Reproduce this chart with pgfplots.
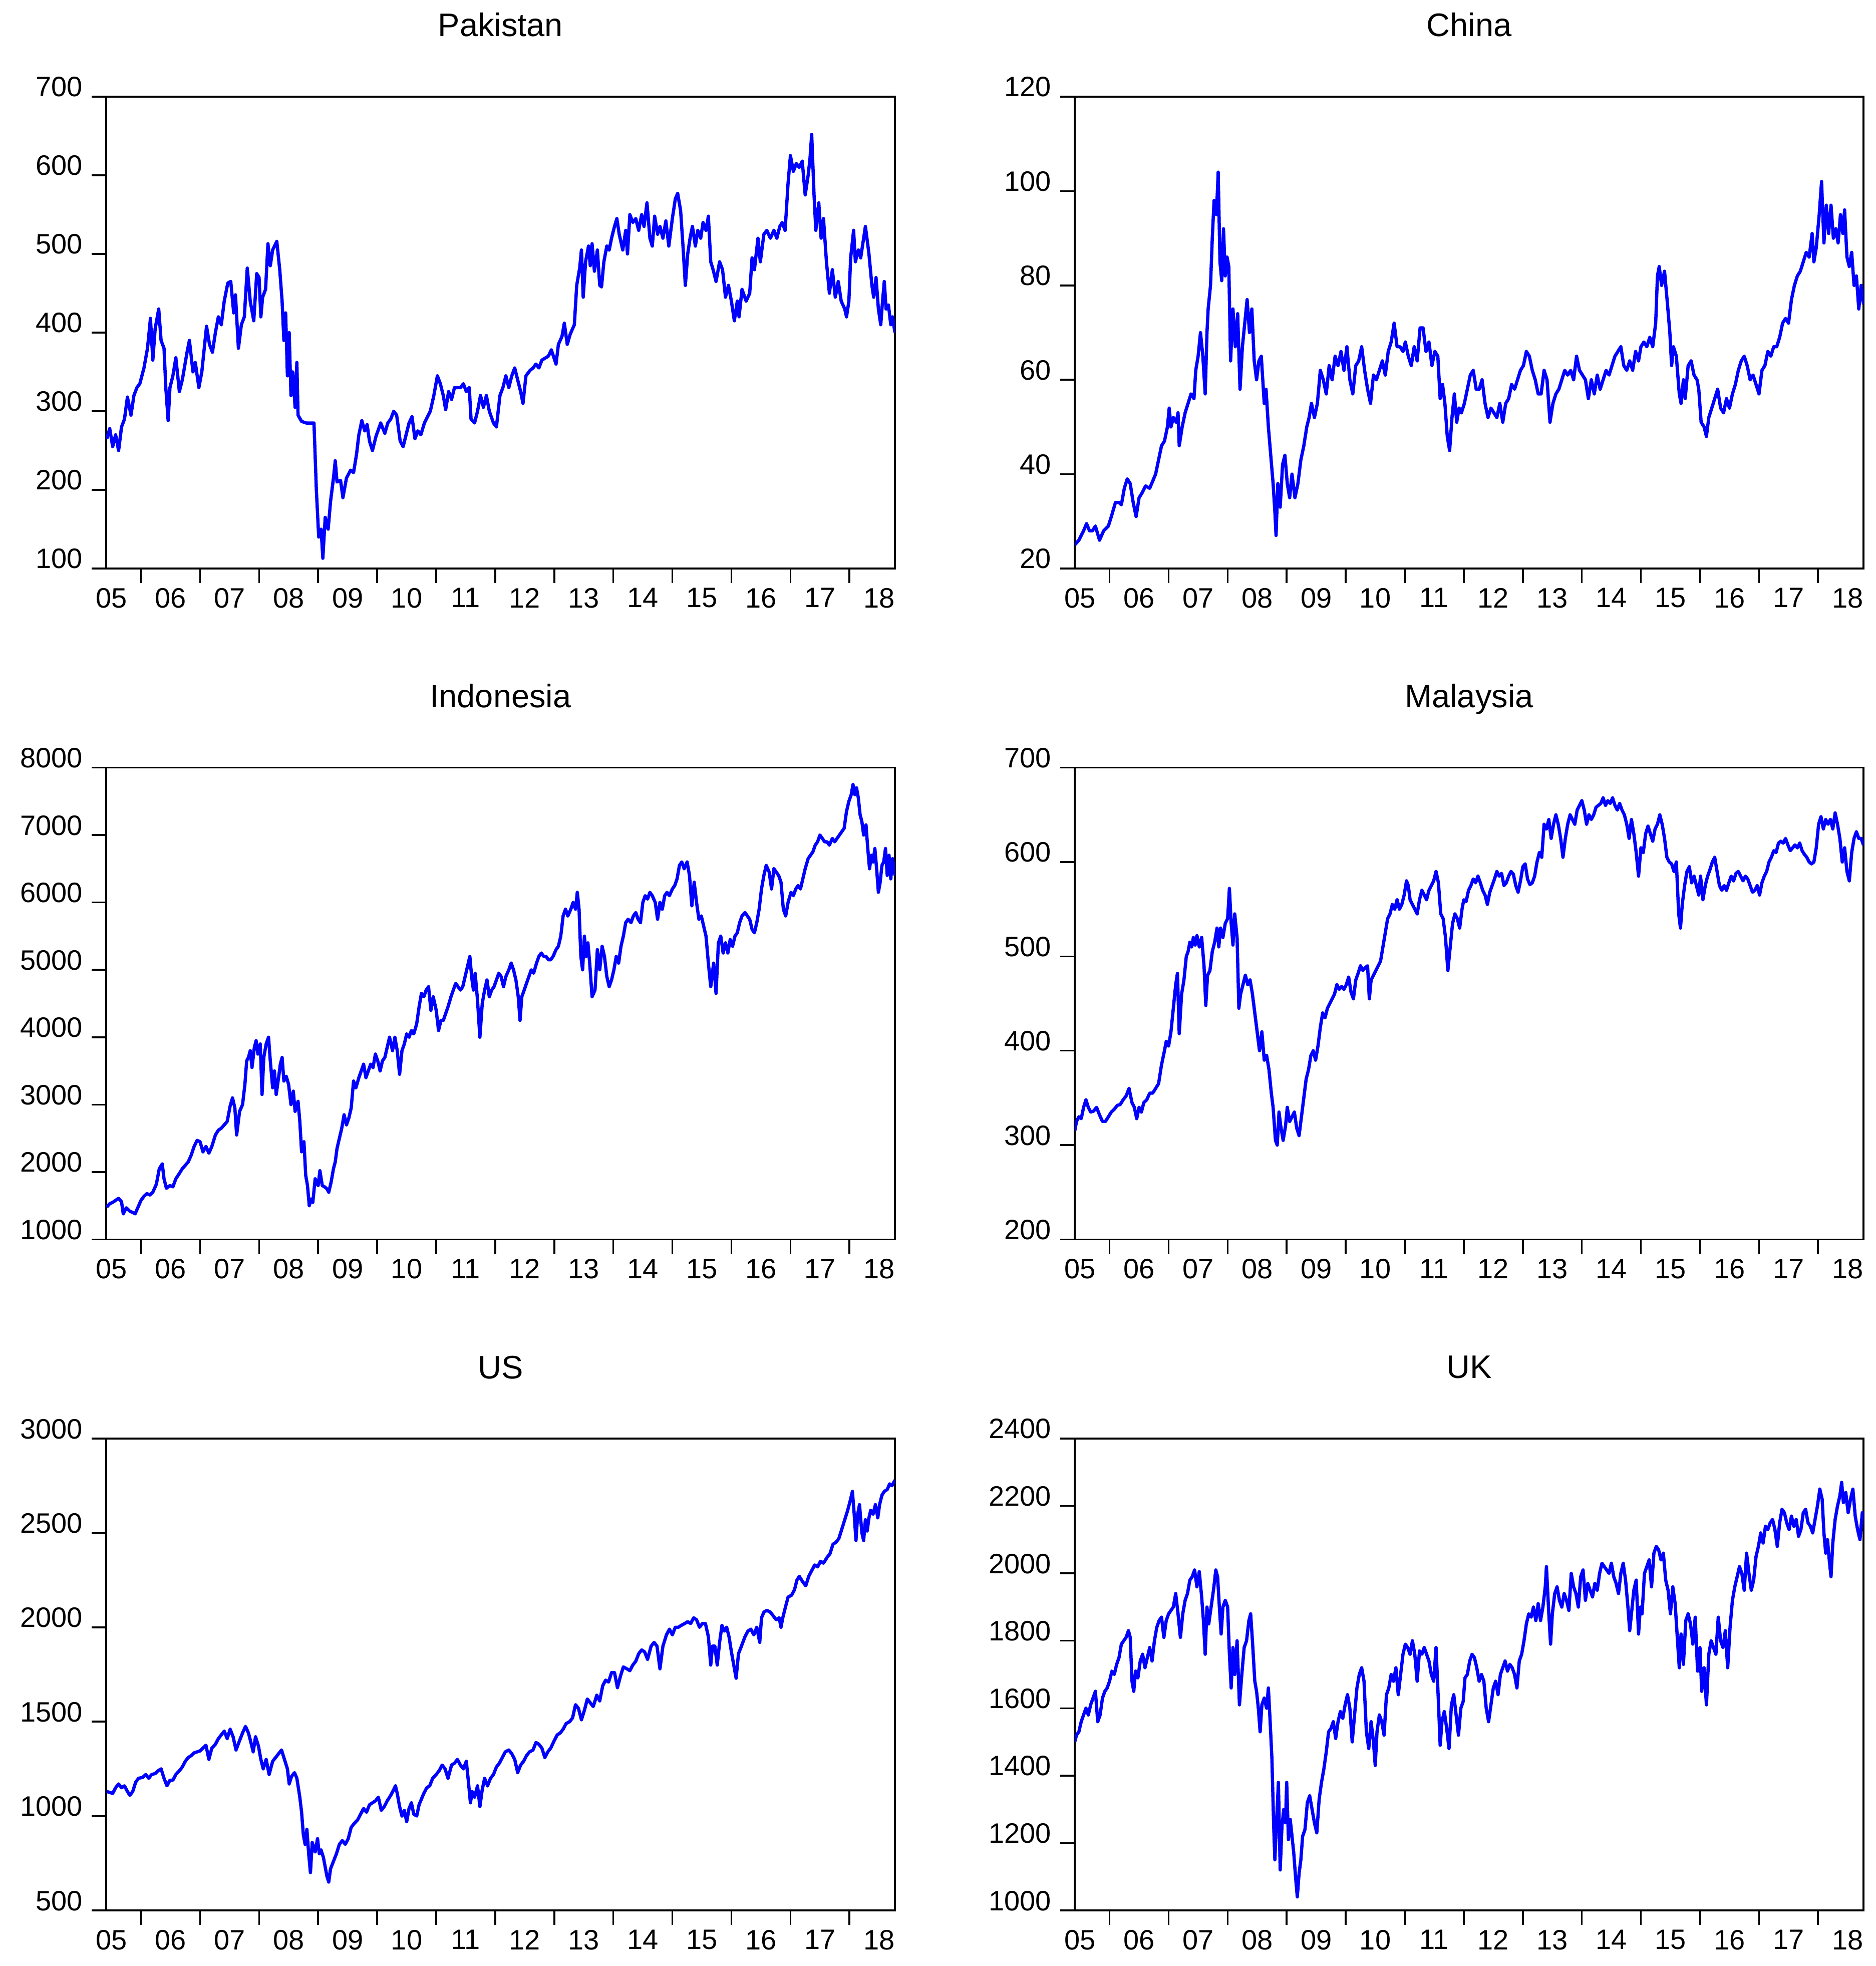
\documentclass[border=0pt]{standalone}
\usepackage{fontspec}
\setmainfont{Liberation Sans}
\usepackage{pgfplots}
\pgfplotsset{compat=1.18}
\pgfplotsset{
  panel/.style={
    scale only axis, width=315pt, height=188.4pt, anchor=south west,
    xmin=2005.41, xmax=2018.77,
    axis line style={line width=0.7pt, black},
    tick align=outside, xtick pos=left, ytick pos=left,
    major tick length=0pt, minor tick length=5.8pt,
    every minor tick/.append style={line width=0.7pt, black},
    xtick={2005.5,2006.5,2007.5,2008.5,2009.5,2010.5,2011.5,2012.5,2013.5,2014.5,2015.5,2016.5,2017.5,2018.5},
    xticklabels={05,06,07,08,09,10,11,12,13,14,15,16,17,18},
    minor xtick={2006,2007,2008,2009,2010,2011,2012,2013,2014,2015,2016,2017,2018},
    tick label style={font=\fontsize{11.2}{13}\selectfont},
    /pgf/number format/assume math mode=true,
    /pgf/number format/1000 sep={},
    yticklabel style={anchor=base east, inner sep=0pt, xshift=-9.2pt},
    xticklabel style={anchor=north, inner sep=0pt, yshift=-7.6pt},
    title style={font=\fontsize{13}{15}\selectfont, at={(0.5,1)}, anchor=base, yshift=18pt},
  },
  tsline/.style={color={rgb,255:red,0;green,0;blue,255}, line width=1.3pt, mark=none, line join=round},
}
\begin{document}
\begin{tikzpicture}
\path[use as bounding box] (0,0) rectangle (749.2pt,785pt);

% Pakistan
\begin{axis}[panel, at={(42.4pt,558pt)}, title={Pakistan}, ymin=100, ymax=700,
  ytick={100,200,300,400,500,600,700}, minor ytick={100,200,300,400,500,600,700}]
\addplot[tsline] coordinates {
(2005.42,265) (2005.47,278) (2005.52,255) (2005.57,270) (2005.62,250) (2005.67,280) (2005.72,290) (2005.77,318) (2005.83,295) (2005.88,320) (2005.93,330) (2005.98,335) (2006.05,355) (2006.11,380) (2006.16,418) (2006.20,365) (2006.24,405) (2006.30,430) (2006.34,390) (2006.39,380) (2006.42,330) (2006.46,288) (2006.49,330) (2006.54,345) (2006.59,368) (2006.65,325) (2006.70,340) (2006.78,375) (2006.82,390) (2006.88,350) (2006.92,362) (2006.98,330) (2007.03,350) (2007.11,408) (2007.16,385) (2007.21,375) (2007.26,400) (2007.31,420) (2007.36,410) (2007.41,440) (2007.47,463) (2007.52,465) (2007.57,425) (2007.60,448) (2007.65,380) (2007.70,410) (2007.75,420) (2007.80,482) (2007.85,440) (2007.91,415) (2007.96,475) (2008.00,470) (2008.03,420) (2008.06,445) (2008.11,455) (2008.15,513) (2008.19,485) (2008.23,505) (2008.30,516) (2008.35,480) (2008.39,440) (2008.42,390) (2008.45,425) (2008.48,345) (2008.51,400) (2008.54,320) (2008.57,350) (2008.61,305) (2008.64,362) (2008.66,295) (2008.72,287) (2008.80,285) (2008.93,285) (2008.97,200) (2009.01,140) (2009.05,150) (2009.08,113) (2009.12,165) (2009.17,150) (2009.21,185) (2009.26,215) (2009.29,237) (2009.32,210) (2009.38,212) (2009.42,190) (2009.48,215) (2009.55,225) (2009.60,222) (2009.65,245) (2009.69,270) (2009.74,288) (2009.79,275) (2009.83,283) (2009.87,262) (2009.92,250) (2009.98,268) (2010.06,285) (2010.13,272) (2010.18,285) (2010.23,290) (2010.28,300) (2010.33,295) (2010.39,262) (2010.44,255) (2010.49,270) (2010.54,285) (2010.59,293) (2010.64,265) (2010.69,275) (2010.74,270) (2010.80,285) (2010.90,300) (2010.96,320) (2011.02,345) (2011.07,335) (2011.12,320) (2011.16,302) (2011.21,325) (2011.26,315) (2011.31,330) (2011.41,330) (2011.46,335) (2011.51,325) (2011.56,330) (2011.59,290) (2011.65,285) (2011.70,300) (2011.75,320) (2011.80,305) (2011.85,320) (2011.90,300) (2011.97,285) (2012.02,280) (2012.08,320) (2012.13,330) (2012.18,345) (2012.23,330) (2012.28,345) (2012.33,355) (2012.38,340) (2012.43,325) (2012.47,310) (2012.52,345) (2012.59,352) (2012.64,355) (2012.69,360) (2012.74,355) (2012.79,365) (2012.90,370) (2012.95,378) (2013.03,360) (2013.07,385) (2013.13,395) (2013.17,412) (2013.22,385) (2013.27,398) (2013.34,410) (2013.38,460) (2013.43,482) (2013.46,505) (2013.49,445) (2013.53,490) (2013.58,510) (2013.61,485) (2013.64,513) (2013.68,478) (2013.73,505) (2013.77,460) (2013.80,458) (2013.84,490) (2013.89,510) (2013.93,505) (2013.97,520) (2014.02,535) (2014.06,545) (2014.10,525) (2014.16,505) (2014.21,530) (2014.24,500) (2014.28,550) (2014.33,540) (2014.38,545) (2014.43,530) (2014.48,550) (2014.52,535) (2014.57,565) (2014.62,520) (2014.66,510) (2014.70,548) (2014.75,525) (2014.79,535) (2014.84,520) (2014.89,542) (2014.94,510) (2015.00,545) (2015.05,570) (2015.09,577) (2015.14,555) (2015.18,510) (2015.22,460) (2015.26,500) (2015.30,520) (2015.34,535) (2015.39,510) (2015.43,530) (2015.48,520) (2015.52,540) (2015.57,530) (2015.61,548) (2015.65,490) (2015.69,480) (2015.74,465) (2015.80,490) (2015.85,480) (2015.90,445) (2015.95,460) (2016.00,440) (2016.05,415) (2016.10,440) (2016.13,420) (2016.18,455) (2016.25,440) (2016.31,450) (2016.35,495) (2016.39,480) (2016.45,520) (2016.49,490) (2016.55,525) (2016.60,530) (2016.66,520) (2016.72,530) (2016.77,520) (2016.82,535) (2016.86,540) (2016.91,530) (2016.96,590) (2017.00,625) (2017.05,605) (2017.10,615) (2017.15,610) (2017.20,618) (2017.25,575) (2017.30,600) (2017.33,620) (2017.36,652) (2017.40,575) (2017.43,530) (2017.48,565) (2017.52,520) (2017.56,545) (2017.61,490) (2017.66,450) (2017.71,480) (2017.76,445) (2017.81,465) (2017.86,440) (2017.92,430) (2017.95,420) (2017.99,440) (2018.02,495) (2018.07,530) (2018.10,490) (2018.15,505) (2018.19,495) (2018.24,520) (2018.27,535) (2018.33,500) (2018.38,460) (2018.41,445) (2018.45,470) (2018.49,430) (2018.53,410) (2018.56,440) (2018.59,465) (2018.62,430) (2018.66,435) (2018.70,410) (2018.73,420) (2018.77,400)
};
\end{axis}

% China
\begin{axis}[panel, at={(429.2pt,558pt)}, title={China}, ymin=20, ymax=120,
  ytick={20,40,60,80,100,120}, minor ytick={20,40,60,80,100,120}]
\addplot[tsline] coordinates {
(2005.41,25) (2005.48,26) (2005.56,28) (2005.61,29.5) (2005.66,28) (2005.71,28) (2005.76,29) (2005.83,26) (2005.90,28) (2005.98,29) (2006.03,31) (2006.10,34) (2006.16,34) (2006.20,33.5) (2006.25,37) (2006.30,39) (2006.35,38) (2006.40,34) (2006.45,31) (2006.50,35) (2006.55,36) (2006.61,37.5) (2006.68,37) (2006.73,38.5) (2006.78,40) (2006.83,43) (2006.88,46) (2006.93,47) (2006.98,50) (2007.01,54) (2007.04,50) (2007.08,52) (2007.13,51) (2007.16,53) (2007.18,46) (2007.23,50) (2007.28,53) (2007.33,55) (2007.38,57) (2007.43,56) (2007.46,62) (2007.50,65) (2007.54,70) (2007.58,65) (2007.62,57) (2007.65,70) (2007.67,75) (2007.71,80) (2007.74,90) (2007.77,98) (2007.81,95) (2007.84,104) (2007.87,85) (2007.90,81) (2007.93,92) (2007.96,82) (2007.99,86) (2008.02,84) (2008.05,64) (2008.09,75) (2008.13,67) (2008.17,74) (2008.21,58) (2008.25,67) (2008.29,72) (2008.33,77) (2008.37,70) (2008.41,75) (2008.45,64) (2008.49,60) (2008.53,64) (2008.57,65) (2008.62,55) (2008.65,58) (2008.69,50) (2008.73,44) (2008.77,38) (2008.80,32) (2008.82,27) (2008.85,38) (2008.89,33) (2008.93,42) (2008.97,44) (2009.01,38) (2009.05,35) (2009.09,40) (2009.14,35) (2009.19,38) (2009.24,43) (2009.29,46) (2009.34,50) (2009.38,52) (2009.42,55) (2009.47,52) (2009.52,55) (2009.57,62) (2009.62,60) (2009.67,57) (2009.72,63) (2009.77,60) (2009.82,65) (2009.87,63) (2009.92,66) (2009.97,62) (2010.02,67) (2010.07,60) (2010.12,57) (2010.17,63) (2010.22,64) (2010.27,67) (2010.32,62) (2010.37,58) (2010.42,55) (2010.47,61) (2010.52,60) (2010.57,62) (2010.62,64) (2010.67,61) (2010.72,66) (2010.77,68) (2010.82,72) (2010.87,67) (2010.92,67) (2010.97,66) (2011.01,68) (2011.06,65) (2011.11,63) (2011.16,67) (2011.21,64) (2011.26,71) (2011.31,71) (2011.36,66) (2011.41,68) (2011.46,63) (2011.51,66) (2011.56,65) (2011.60,56) (2011.64,59) (2011.68,55) (2011.72,48) (2011.76,45) (2011.80,52) (2011.84,57) (2011.88,51) (2011.92,54) (2011.96,53) (2012.01,55) (2012.06,58) (2012.11,61) (2012.16,62) (2012.21,58) (2012.26,58) (2012.31,60) (2012.36,55) (2012.41,52) (2012.46,54) (2012.51,53) (2012.56,52) (2012.61,55) (2012.66,51) (2012.71,55) (2012.76,56) (2012.81,59) (2012.86,58) (2012.91,60) (2012.96,62) (2013.01,63) (2013.06,66) (2013.11,65) (2013.16,62) (2013.21,60) (2013.26,57) (2013.31,57) (2013.36,62) (2013.41,60) (2013.46,51) (2013.51,55) (2013.56,57) (2013.61,58) (2013.66,60) (2013.71,62) (2013.76,61) (2013.81,62) (2013.86,60) (2013.91,65) (2013.96,62) (2014.01,61) (2014.06,60) (2014.11,56) (2014.16,60) (2014.21,57) (2014.26,61) (2014.31,58) (2014.36,60) (2014.41,62) (2014.46,61) (2014.51,63) (2014.56,65) (2014.61,66) (2014.66,67) (2014.71,63) (2014.76,62) (2014.81,64) (2014.86,62) (2014.91,66) (2014.96,64) (2015.00,67) (2015.05,68) (2015.10,67) (2015.15,69) (2015.20,67) (2015.25,72) (2015.28,82) (2015.31,84) (2015.35,80) (2015.40,83) (2015.45,76) (2015.49,70) (2015.52,63) (2015.55,67) (2015.60,65) (2015.65,57) (2015.68,55) (2015.72,60) (2015.75,56) (2015.80,63) (2015.85,64) (2015.90,61) (2015.95,60) (2015.98,58) (2016.02,51) (2016.07,50) (2016.11,48) (2016.15,52) (2016.20,54) (2016.25,56) (2016.30,58) (2016.35,54) (2016.40,53) (2016.45,56) (2016.50,54) (2016.55,57) (2016.60,59) (2016.65,62) (2016.70,64) (2016.75,65) (2016.80,63) (2016.85,60) (2016.90,61) (2016.95,59) (2017.00,57) (2017.05,62) (2017.10,63) (2017.15,66) (2017.20,65) (2017.25,67) (2017.30,67) (2017.35,69) (2017.40,72) (2017.45,73) (2017.50,72) (2017.55,77) (2017.60,80) (2017.65,82) (2017.70,83) (2017.75,85) (2017.80,87) (2017.85,86) (2017.90,91) (2017.93,85) (2017.97,88) (2018.02,95) (2018.06,102) (2018.10,89) (2018.14,97) (2018.18,91) (2018.22,97) (2018.26,90) (2018.30,92) (2018.34,89) (2018.38,95) (2018.42,91) (2018.45,96) (2018.49,86) (2018.53,84) (2018.57,87) (2018.61,80) (2018.65,82) (2018.69,75) (2018.73,80) (2018.77,76)
};
\end{axis}

% Indonesia
\begin{axis}[panel, at={(42.4pt,290.1pt)}, title={Indonesia}, ymin=1000, ymax=8000,
  ytick={1000,2000,3000,4000,5000,6000,7000,8000}, minor ytick={1000,2000,3000,4000,5000,6000,7000,8000}]
\addplot[tsline] coordinates {
(2005.42,1480) (2005.47,1530) (2005.52,1550) (2005.57,1580) (2005.62,1610) (2005.67,1560) (2005.70,1380) (2005.75,1470) (2005.81,1420) (2005.86,1400) (2005.90,1380) (2005.96,1500) (2006.00,1580) (2006.05,1640) (2006.10,1680) (2006.15,1660) (2006.20,1700) (2006.26,1820) (2006.31,2050) (2006.36,2120) (2006.39,1900) (2006.43,1760) (2006.49,1800) (2006.54,1780) (2006.59,1900) (2006.65,1980) (2006.70,2050) (2006.75,2100) (2006.80,2150) (2006.85,2250) (2006.90,2380) (2006.95,2470) (2007.00,2450) (2007.05,2300) (2007.10,2380) (2007.15,2280) (2007.20,2380) (2007.26,2550) (2007.31,2620) (2007.36,2650) (2007.41,2700) (2007.46,2750) (2007.51,2980) (2007.55,3100) (2007.59,2950) (2007.62,2550) (2007.67,2900) (2007.72,3000) (2007.76,3300) (2007.79,3650) (2007.82,3700) (2007.85,3800) (2007.88,3550) (2007.92,3850) (2007.95,3950) (2007.98,3750) (2008.02,3900) (2008.05,3150) (2008.08,3700) (2008.12,3900) (2008.16,4000) (2008.19,3650) (2008.23,3250) (2008.26,3500) (2008.29,3150) (2008.33,3400) (2008.36,3600) (2008.39,3700) (2008.42,3350) (2008.46,3420) (2008.50,3300) (2008.54,3000) (2008.58,3200) (2008.61,2900) (2008.66,3050) (2008.69,2750) (2008.72,2300) (2008.76,2450) (2008.79,1950) (2008.82,1800) (2008.85,1500) (2008.88,1600) (2008.91,1550) (2008.95,1900) (2009.00,1800) (2009.03,2020) (2009.07,1800) (2009.11,1780) (2009.15,1750) (2009.18,1700) (2009.22,1850) (2009.26,2050) (2009.29,2150) (2009.32,2350) (2009.36,2500) (2009.40,2650) (2009.44,2850) (2009.48,2700) (2009.52,2800) (2009.56,2950) (2009.60,3350) (2009.64,3250) (2009.69,3400) (2009.73,3500) (2009.77,3600) (2009.81,3400) (2009.85,3500) (2009.89,3600) (2009.93,3550) (2009.97,3750) (2010.01,3650) (2010.05,3500) (2010.09,3650) (2010.13,3700) (2010.17,3850) (2010.21,4000) (2010.26,3800) (2010.30,4000) (2010.34,3800) (2010.38,3450) (2010.42,3800) (2010.46,3900) (2010.50,4050) (2010.54,4000) (2010.58,4100) (2010.62,4050) (2010.67,4200) (2010.71,4450) (2010.75,4650) (2010.79,4600) (2010.83,4700) (2010.87,4750) (2010.91,4400) (2010.95,4600) (2011.00,4400) (2011.04,4100) (2011.08,4250) (2011.12,4250) (2011.16,4350) (2011.20,4450) (2011.25,4600) (2011.29,4700) (2011.33,4800) (2011.37,4750) (2011.41,4700) (2011.45,4750) (2011.49,4900) (2011.53,5050) (2011.57,5200) (2011.60,4900) (2011.63,4700) (2011.66,4950) (2011.70,4550) (2011.74,4000) (2011.78,4500) (2011.82,4700) (2011.86,4850) (2011.90,4600) (2011.94,4700) (2011.98,4750) (2012.02,4850) (2012.06,4950) (2012.10,4900) (2012.14,4750) (2012.18,4900) (2012.23,5000) (2012.27,5100) (2012.31,5000) (2012.35,4850) (2012.39,4600) (2012.42,4250) (2012.45,4600) (2012.49,4700) (2012.53,4800) (2012.57,4900) (2012.61,5000) (2012.65,4950) (2012.70,5100) (2012.74,5200) (2012.78,5250) (2012.82,5200) (2012.86,5200) (2012.90,5150) (2012.94,5150) (2012.98,5200) (2013.03,5300) (2013.07,5350) (2013.11,5500) (2013.15,5800) (2013.19,5900) (2013.23,5800) (2013.28,5900) (2013.32,6000) (2013.36,5900) (2013.39,6150) (2013.42,5900) (2013.45,5200) (2013.48,5000) (2013.51,5500) (2013.54,5200) (2013.57,5400) (2013.60,5100) (2013.64,4600) (2013.69,4700) (2013.73,5300) (2013.77,5000) (2013.81,5350) (2013.85,5200) (2013.89,4900) (2013.93,4750) (2013.97,4850) (2014.01,5000) (2014.05,5200) (2014.09,5100) (2014.13,5350) (2014.17,5500) (2014.21,5700) (2014.25,5750) (2014.30,5700) (2014.34,5800) (2014.38,5850) (2014.42,5750) (2014.46,5700) (2014.50,6000) (2014.54,6100) (2014.58,6050) (2014.62,6150) (2014.66,6100) (2014.71,6000) (2014.75,5750) (2014.79,6000) (2014.83,5900) (2014.87,6100) (2014.91,6150) (2014.95,6100) (2015.00,6200) (2015.04,6250) (2015.08,6350) (2015.12,6550) (2015.16,6600) (2015.20,6500) (2015.25,6600) (2015.29,6400) (2015.33,5950) (2015.37,6300) (2015.41,6000) (2015.45,5750) (2015.49,5800) (2015.53,5650) (2015.57,5500) (2015.61,5100) (2015.65,4750) (2015.70,5100) (2015.74,4650) (2015.78,5400) (2015.82,5500) (2015.86,5250) (2015.90,5400) (2015.94,5250) (2015.98,5450) (2016.02,5350) (2016.06,5500) (2016.10,5550) (2016.14,5700) (2016.18,5800) (2016.23,5850) (2016.27,5800) (2016.31,5750) (2016.35,5600) (2016.39,5550) (2016.43,5700) (2016.47,5900) (2016.51,6200) (2016.55,6400) (2016.59,6550) (2016.64,6450) (2016.68,6200) (2016.72,6500) (2016.76,6450) (2016.80,6400) (2016.84,6300) (2016.88,5900) (2016.92,5800) (2016.96,6000) (2017.01,6150) (2017.05,6100) (2017.09,6200) (2017.13,6250) (2017.17,6200) (2017.21,6350) (2017.25,6500) (2017.30,6650) (2017.34,6700) (2017.38,6750) (2017.42,6850) (2017.46,6900) (2017.50,7000) (2017.54,6950) (2017.58,6900) (2017.62,6900) (2017.66,6850) (2017.71,6950) (2017.75,6900) (2017.79,6950) (2017.83,7000) (2017.87,7050) (2017.91,7100) (2017.95,7350) (2017.99,7500) (2018.03,7600) (2018.06,7750) (2018.09,7600) (2018.12,7700) (2018.15,7550) (2018.18,7300) (2018.21,7200) (2018.24,7000) (2018.28,7150) (2018.31,6800) (2018.34,6500) (2018.37,6700) (2018.40,6600) (2018.43,6800) (2018.46,6500) (2018.49,6150) (2018.52,6300) (2018.55,6550) (2018.58,6600) (2018.61,6800) (2018.64,6400) (2018.67,6700) (2018.70,6350) (2018.73,6650) (2018.77,6400)
};
\end{axis}

% Malaysia
\begin{axis}[panel, at={(429.2pt,290.1pt)}, title={Malaysia}, ymin=200, ymax=700,
  ytick={200,300,400,500,600,700}, minor ytick={200,300,400,500,600,700}]
\addplot[tsline] coordinates {
(2005.41,315) (2005.44,325) (2005.48,330) (2005.52,328) (2005.56,340) (2005.60,348) (2005.64,340) (2005.68,335) (2005.73,336) (2005.78,340) (2005.83,332) (2005.88,325) (2005.93,325) (2005.98,330) (2006.03,335) (2006.08,338) (2006.13,342) (2006.18,343) (2006.23,348) (2006.28,352) (2006.33,360) (2006.38,345) (2006.42,340) (2006.46,328) (2006.50,340) (2006.54,335) (2006.58,345) (2006.63,348) (2006.68,355) (2006.73,355) (2006.78,360) (2006.83,365) (2006.88,385) (2006.93,400) (2006.96,410) (2007.00,405) (2007.04,420) (2007.08,445) (2007.12,470) (2007.15,482) (2007.18,418) (2007.22,460) (2007.26,475) (2007.30,500) (2007.33,505) (2007.36,515) (2007.39,510) (2007.42,520) (2007.45,512) (2007.48,522) (2007.52,510) (2007.56,520) (2007.60,490) (2007.63,448) (2007.66,480) (2007.70,485) (2007.74,505) (2007.78,515) (2007.82,530) (2007.85,510) (2007.88,530) (2007.92,520) (2007.96,535) (2008.00,540) (2008.03,572) (2008.06,535) (2008.09,512) (2008.12,545) (2008.16,520) (2008.19,445) (2008.22,460) (2008.26,470) (2008.30,480) (2008.34,470) (2008.38,475) (2008.42,460) (2008.46,440) (2008.50,420) (2008.54,400) (2008.58,420) (2008.62,390) (2008.66,395) (2008.70,380) (2008.74,355) (2008.77,340) (2008.81,305) (2008.84,300) (2008.87,335) (2008.90,320) (2008.94,305) (2008.98,320) (2009.01,340) (2009.05,325) (2009.09,330) (2009.13,335) (2009.17,318) (2009.21,310) (2009.25,330) (2009.29,350) (2009.33,370) (2009.37,380) (2009.41,395) (2009.45,400) (2009.49,390) (2009.53,405) (2009.57,425) (2009.61,440) (2009.65,435) (2009.69,445) (2009.73,450) (2009.77,455) (2009.81,460) (2009.85,470) (2009.89,465) (2009.93,468) (2009.97,465) (2010.01,470) (2010.05,478) (2010.09,462) (2010.13,455) (2010.17,475) (2010.21,482) (2010.25,490) (2010.29,485) (2010.33,488) (2010.37,490) (2010.40,455) (2010.43,475) (2010.47,480) (2010.51,485) (2010.55,490) (2010.59,495) (2010.63,510) (2010.67,525) (2010.71,540) (2010.75,545) (2010.79,555) (2010.83,550) (2010.87,560) (2010.91,550) (2010.95,555) (2010.99,565) (2011.03,580) (2011.06,575) (2011.09,560) (2011.13,555) (2011.17,550) (2011.21,545) (2011.25,560) (2011.29,570) (2011.33,565) (2011.37,560) (2011.41,570) (2011.45,575) (2011.49,580) (2011.53,590) (2011.57,578) (2011.61,545) (2011.65,540) (2011.69,520) (2011.73,485) (2011.77,510) (2011.81,535) (2011.85,545) (2011.89,540) (2011.93,530) (2011.97,550) (2012.00,560) (2012.04,558) (2012.08,570) (2012.12,575) (2012.16,582) (2012.20,578) (2012.24,585) (2012.28,578) (2012.32,570) (2012.36,565) (2012.40,555) (2012.44,568) (2012.48,575) (2012.52,582) (2012.56,590) (2012.60,585) (2012.64,588) (2012.68,575) (2012.72,578) (2012.76,585) (2012.80,590) (2012.84,587) (2012.88,575) (2012.92,568) (2012.96,580) (2013.00,595) (2013.04,598) (2013.08,582) (2013.12,576) (2013.16,578) (2013.20,585) (2013.24,600) (2013.28,610) (2013.32,605) (2013.36,640) (2013.40,635) (2013.44,645) (2013.48,625) (2013.52,640) (2013.56,650) (2013.60,640) (2013.64,625) (2013.68,605) (2013.72,625) (2013.76,640) (2013.80,650) (2013.84,645) (2013.88,640) (2013.92,655) (2013.96,660) (2014.00,665) (2014.04,655) (2014.08,640) (2014.12,650) (2014.16,645) (2014.20,650) (2014.24,658) (2014.28,660) (2014.32,662) (2014.36,668) (2014.40,660) (2014.44,665) (2014.48,662) (2014.52,668) (2014.56,660) (2014.60,655) (2014.64,662) (2014.68,655) (2014.72,650) (2014.76,640) (2014.80,625) (2014.84,645) (2014.88,630) (2014.92,610) (2014.96,585) (2015.00,615) (2015.04,610) (2015.08,630) (2015.12,638) (2015.16,630) (2015.20,622) (2015.24,635) (2015.28,640) (2015.32,650) (2015.36,640) (2015.40,625) (2015.44,605) (2015.48,600) (2015.52,598) (2015.56,590) (2015.60,600) (2015.64,545) (2015.67,530) (2015.70,555) (2015.74,575) (2015.78,590) (2015.82,595) (2015.86,578) (2015.90,585) (2015.94,575) (2015.98,565) (2016.01,585) (2016.05,560) (2016.09,575) (2016.13,585) (2016.17,592) (2016.21,600) (2016.25,605) (2016.29,590) (2016.33,575) (2016.37,570) (2016.41,575) (2016.45,570) (2016.49,578) (2016.53,585) (2016.57,580) (2016.61,588) (2016.65,590) (2016.69,585) (2016.73,580) (2016.77,585) (2016.81,582) (2016.85,575) (2016.89,568) (2016.93,570) (2016.97,575) (2017.01,565) (2017.05,578) (2017.09,585) (2017.13,590) (2017.17,600) (2017.21,605) (2017.25,612) (2017.29,610) (2017.33,620) (2017.37,622) (2017.41,620) (2017.45,625) (2017.49,618) (2017.53,612) (2017.57,615) (2017.61,618) (2017.65,615) (2017.69,620) (2017.73,612) (2017.77,608) (2017.81,605) (2017.85,600) (2017.89,598) (2017.93,600) (2017.97,615) (2018.01,640) (2018.05,648) (2018.09,635) (2018.13,645) (2018.17,640) (2018.21,645) (2018.25,635) (2018.29,652) (2018.33,640) (2018.37,625) (2018.41,600) (2018.45,615) (2018.49,590) (2018.53,580) (2018.57,610) (2018.61,625) (2018.65,632) (2018.69,625) (2018.73,625) (2018.77,618)
};
\end{axis}

% US
\begin{axis}[panel, at={(42.4pt,22.2pt)}, title={US}, ymin=500, ymax=3000,
  ytick={500,1000,1500,2000,2500,3000}, minor ytick={500,1000,1500,2000,2500,3000}]
\addplot[tsline] coordinates {
(2005.42,1130) (2005.52,1120) (2005.57,1150) (2005.62,1170) (2005.67,1150) (2005.72,1160) (2005.77,1130) (2005.81,1110) (2005.86,1130) (2005.91,1180) (2005.96,1200) (2006.03,1205) (2006.08,1220) (2006.13,1200) (2006.18,1220) (2006.24,1225) (2006.29,1240) (2006.34,1250) (2006.39,1200) (2006.44,1160) (2006.49,1190) (2006.54,1190) (2006.59,1220) (2006.65,1240) (2006.70,1260) (2006.75,1290) (2006.80,1310) (2006.85,1320) (2006.90,1335) (2006.95,1340) (2007.00,1345) (2007.05,1360) (2007.10,1375) (2007.15,1300) (2007.20,1360) (2007.26,1380) (2007.31,1410) (2007.36,1430) (2007.41,1450) (2007.46,1410) (2007.51,1460) (2007.56,1420) (2007.61,1350) (2007.67,1400) (2007.72,1440) (2007.77,1475) (2007.82,1440) (2007.87,1380) (2007.90,1340) (2007.94,1420) (2007.99,1370) (2008.03,1300) (2008.07,1250) (2008.12,1300) (2008.17,1220) (2008.23,1290) (2008.28,1310) (2008.33,1330) (2008.38,1350) (2008.43,1300) (2008.48,1250) (2008.51,1170) (2008.55,1210) (2008.60,1230) (2008.64,1200) (2008.69,1100) (2008.72,1020) (2008.75,900) (2008.78,850) (2008.81,930) (2008.84,800) (2008.87,700) (2008.90,860) (2008.95,810) (2008.99,880) (2009.02,800) (2009.05,820) (2009.09,780) (2009.12,730) (2009.15,680) (2009.18,650) (2009.21,720) (2009.26,760) (2009.31,800) (2009.36,850) (2009.41,870) (2009.46,850) (2009.51,880) (2009.56,940) (2009.61,960) (2009.67,980) (2009.72,1010) (2009.77,1040) (2009.82,1020) (2009.87,1060) (2009.92,1070) (2009.97,1080) (2010.02,1100) (2010.07,1030) (2010.12,1050) (2010.17,1080) (2010.23,1110) (2010.28,1140) (2010.31,1160) (2010.34,1120) (2010.38,1050) (2010.42,1000) (2010.46,1030) (2010.50,970) (2010.54,1040) (2010.58,1070) (2010.62,1010) (2010.67,1000) (2010.71,1060) (2010.75,1090) (2010.79,1120) (2010.84,1150) (2010.89,1160) (2010.94,1200) (2011.00,1220) (2011.05,1240) (2011.10,1270) (2011.15,1250) (2011.20,1200) (2011.26,1270) (2011.31,1280) (2011.36,1300) (2011.41,1270) (2011.46,1250) (2011.51,1290) (2011.54,1200) (2011.58,1070) (2011.61,1130) (2011.65,1100) (2011.70,1160) (2011.74,1050) (2011.78,1140) (2011.82,1200) (2011.87,1160) (2011.92,1200) (2011.97,1220) (2012.02,1260) (2012.07,1280) (2012.12,1310) (2012.17,1340) (2012.23,1350) (2012.28,1330) (2012.33,1300) (2012.38,1230) (2012.43,1270) (2012.48,1290) (2012.53,1320) (2012.58,1340) (2012.64,1350) (2012.69,1390) (2012.74,1380) (2012.79,1360) (2012.84,1310) (2012.89,1340) (2012.94,1360) (2013.00,1400) (2013.05,1430) (2013.10,1440) (2013.15,1460) (2013.20,1490) (2013.26,1500) (2013.31,1520) (2013.36,1590) (2013.41,1570) (2013.46,1510) (2013.51,1560) (2013.56,1620) (2013.61,1600) (2013.66,1580) (2013.72,1640) (2013.77,1610) (2013.82,1690) (2013.87,1720) (2013.92,1710) (2013.97,1760) (2014.02,1760) (2014.07,1680) (2014.12,1740) (2014.17,1790) (2014.23,1780) (2014.28,1770) (2014.33,1800) (2014.38,1820) (2014.43,1860) (2014.48,1880) (2014.53,1870) (2014.58,1830) (2014.64,1900) (2014.69,1920) (2014.74,1900) (2014.79,1780) (2014.84,1900) (2014.90,1960) (2014.95,1990) (2015.00,1960) (2015.05,2000) (2015.10,2000) (2015.15,2010) (2015.21,2020) (2015.26,2030) (2015.31,2020) (2015.36,2050) (2015.41,2040) (2015.46,2000) (2015.51,2020) (2015.56,2020) (2015.61,1950) (2015.65,1800) (2015.68,1900) (2015.72,1900) (2015.76,1800) (2015.80,1920) (2015.84,2010) (2015.88,1980) (2015.92,2000) (2015.96,1950) (2016.00,1870) (2016.04,1800) (2016.08,1730) (2016.12,1860) (2016.17,1900) (2016.23,1950) (2016.28,1980) (2016.33,1990) (2016.38,1960) (2016.43,2000) (2016.48,1920) (2016.51,2050) (2016.55,2080) (2016.60,2090) (2016.66,2080) (2016.71,2060) (2016.76,2040) (2016.81,2050) (2016.84,2000) (2016.87,2050) (2016.91,2100) (2016.96,2160) (2017.02,2170) (2017.07,2200) (2017.11,2250) (2017.15,2270) (2017.21,2240) (2017.26,2220) (2017.31,2270) (2017.36,2300) (2017.41,2330) (2017.46,2320) (2017.51,2350) (2017.56,2340) (2017.62,2370) (2017.67,2390) (2017.72,2440) (2017.77,2450) (2017.82,2470) (2017.87,2520) (2017.92,2570) (2017.97,2620) (2018.02,2680) (2018.05,2720) (2018.08,2600) (2018.11,2460) (2018.14,2600) (2018.17,2650) (2018.21,2500) (2018.24,2460) (2018.27,2570) (2018.30,2510) (2018.33,2580) (2018.36,2620) (2018.40,2600) (2018.44,2650) (2018.48,2580) (2018.51,2650) (2018.55,2700) (2018.59,2720) (2018.64,2730) (2018.68,2760) (2018.72,2750) (2018.77,2780)
};
\end{axis}

% UK
\begin{axis}[panel, at={(429.2pt,22.2pt)}, title={UK}, ymin=1000, ymax=2400,
  ytick={1000,1200,1400,1600,1800,2000,2200,2400}, minor ytick={1000,1200,1400,1600,1800,2000,2200,2400}]
\addplot[tsline] coordinates {
(2005.41,1500) (2005.44,1520) (2005.48,1530) (2005.52,1560) (2005.56,1580) (2005.60,1600) (2005.64,1580) (2005.68,1610) (2005.72,1630) (2005.76,1650) (2005.80,1560) (2005.84,1580) (2005.88,1630) (2005.92,1650) (2005.96,1660) (2006.00,1680) (2006.04,1710) (2006.08,1700) (2006.12,1730) (2006.16,1750) (2006.20,1790) (2006.24,1800) (2006.28,1810) (2006.32,1830) (2006.35,1810) (2006.38,1680) (2006.41,1650) (2006.44,1710) (2006.48,1690) (2006.52,1740) (2006.56,1760) (2006.60,1720) (2006.64,1750) (2006.68,1780) (2006.72,1740) (2006.76,1800) (2006.80,1840) (2006.84,1860) (2006.88,1870) (2006.92,1810) (2006.96,1860) (2007.00,1880) (2007.04,1890) (2007.08,1900) (2007.12,1940) (2007.16,1880) (2007.20,1810) (2007.24,1880) (2007.28,1920) (2007.32,1940) (2007.36,1980) (2007.40,1990) (2007.44,2010) (2007.48,1960) (2007.52,2005) (2007.56,1930) (2007.59,1860) (2007.62,1760) (2007.65,1900) (2007.68,1850) (2007.72,1900) (2007.76,1950) (2007.80,2010) (2007.83,1990) (2007.86,1900) (2007.89,1820) (2007.92,1900) (2007.96,1920) (2008.00,1900) (2008.03,1760) (2008.06,1660) (2008.09,1780) (2008.12,1700) (2008.16,1800) (2008.20,1610) (2008.24,1700) (2008.28,1780) (2008.32,1800) (2008.36,1860) (2008.39,1880) (2008.42,1800) (2008.46,1680) (2008.49,1650) (2008.52,1600) (2008.55,1530) (2008.58,1610) (2008.62,1630) (2008.66,1600) (2008.69,1660) (2008.72,1560) (2008.75,1450) (2008.78,1250) (2008.80,1150) (2008.83,1270) (2008.86,1380) (2008.89,1120) (2008.92,1250) (2008.95,1300) (2008.98,1260) (2009.00,1380) (2009.03,1210) (2009.06,1270) (2009.09,1220) (2009.12,1170) (2009.15,1100) (2009.18,1040) (2009.21,1110) (2009.24,1150) (2009.27,1220) (2009.31,1240) (2009.35,1320) (2009.39,1340) (2009.43,1300) (2009.47,1260) (2009.51,1230) (2009.55,1330) (2009.59,1380) (2009.63,1420) (2009.67,1470) (2009.71,1530) (2009.75,1540) (2009.79,1560) (2009.83,1510) (2009.87,1560) (2009.91,1590) (2009.95,1570) (2009.99,1610) (2010.03,1640) (2010.07,1600) (2010.11,1500) (2010.15,1580) (2010.19,1660) (2010.23,1700) (2010.27,1720) (2010.31,1680) (2010.35,1530) (2010.39,1480) (2010.43,1560) (2010.47,1500) (2010.50,1430) (2010.53,1530) (2010.57,1580) (2010.61,1560) (2010.65,1520) (2010.69,1640) (2010.73,1660) (2010.77,1700) (2010.81,1680) (2010.85,1720) (2010.89,1640) (2010.93,1700) (2010.97,1760) (2011.01,1790) (2011.05,1780) (2011.09,1760) (2011.13,1800) (2011.17,1760) (2011.21,1680) (2011.25,1770) (2011.29,1760) (2011.33,1780) (2011.37,1760) (2011.41,1740) (2011.45,1700) (2011.49,1680) (2011.53,1780) (2011.57,1620) (2011.60,1490) (2011.63,1560) (2011.67,1590) (2011.71,1540) (2011.75,1480) (2011.79,1610) (2011.83,1640) (2011.87,1580) (2011.91,1520) (2011.95,1600) (2011.99,1620) (2012.02,1690) (2012.06,1700) (2012.10,1740) (2012.14,1760) (2012.18,1750) (2012.22,1720) (2012.26,1680) (2012.30,1700) (2012.34,1680) (2012.38,1600) (2012.42,1560) (2012.46,1610) (2012.50,1660) (2012.54,1680) (2012.58,1640) (2012.62,1700) (2012.66,1720) (2012.70,1740) (2012.74,1710) (2012.78,1730) (2012.82,1720) (2012.86,1700) (2012.90,1660) (2012.94,1740) (2012.98,1760) (2013.02,1800) (2013.06,1850) (2013.10,1880) (2013.14,1870) (2013.18,1900) (2013.22,1860) (2013.26,1910) (2013.30,1860) (2013.34,1900) (2013.38,1960) (2013.40,2020) (2013.44,1880) (2013.47,1790) (2013.50,1880) (2013.54,1940) (2013.58,1960) (2013.62,1920) (2013.66,1900) (2013.70,1940) (2013.74,1920) (2013.78,1890) (2013.82,2000) (2013.86,1960) (2013.90,1940) (2013.94,1900) (2013.98,1990) (2014.02,2010) (2014.06,1920) (2014.10,1970) (2014.14,1950) (2014.18,1930) (2014.22,1970) (2014.26,1950) (2014.30,2000) (2014.34,2030) (2014.38,2020) (2014.42,2010) (2014.46,2000) (2014.50,2030) (2014.54,1990) (2014.58,1970) (2014.62,1940) (2014.66,2000) (2014.70,2030) (2014.74,1980) (2014.78,1900) (2014.81,1830) (2014.84,1880) (2014.88,1950) (2014.92,1980) (2014.96,1820) (2014.99,1900) (2015.02,1880) (2015.06,2000) (2015.10,2020) (2015.14,2040) (2015.18,1960) (2015.22,2060) (2015.26,2080) (2015.30,2070) (2015.34,2040) (2015.38,2060) (2015.42,1980) (2015.46,1950) (2015.50,1880) (2015.54,1960) (2015.58,1910) (2015.62,1800) (2015.65,1720) (2015.68,1820) (2015.72,1730) (2015.76,1860) (2015.80,1880) (2015.84,1850) (2015.88,1790) (2015.92,1870) (2015.96,1710) (2016.00,1780) (2016.03,1650) (2016.07,1720) (2016.11,1610) (2016.15,1760) (2016.19,1800) (2016.23,1780) (2016.27,1760) (2016.31,1870) (2016.35,1800) (2016.39,1780) (2016.43,1830) (2016.47,1720) (2016.51,1840) (2016.55,1920) (2016.59,1960) (2016.63,1990) (2016.67,2020) (2016.71,2000) (2016.75,1950) (2016.79,2060) (2016.83,2000) (2016.87,1950) (2016.91,1980) (2016.95,2050) (2016.99,2080) (2017.03,2120) (2017.07,2090) (2017.11,2140) (2017.15,2130) (2017.19,2150) (2017.23,2160) (2017.27,2130) (2017.31,2080) (2017.35,2150) (2017.39,2190) (2017.43,2180) (2017.47,2150) (2017.51,2130) (2017.55,2170) (2017.59,2140) (2017.63,2160) (2017.67,2110) (2017.71,2130) (2017.75,2180) (2017.79,2190) (2017.83,2150) (2017.87,2140) (2017.91,2120) (2017.95,2160) (2017.99,2200) (2018.03,2250) (2018.07,2220) (2018.10,2120) (2018.13,2060) (2018.16,2100) (2018.19,2040) (2018.22,1990) (2018.25,2090) (2018.29,2160) (2018.33,2200) (2018.37,2230) (2018.40,2270) (2018.43,2210) (2018.47,2240) (2018.51,2180) (2018.55,2220) (2018.59,2250) (2018.63,2170) (2018.67,2130) (2018.71,2100) (2018.75,2180) (2018.77,2170)
};
\end{axis}
\end{tikzpicture}
\end{document}
